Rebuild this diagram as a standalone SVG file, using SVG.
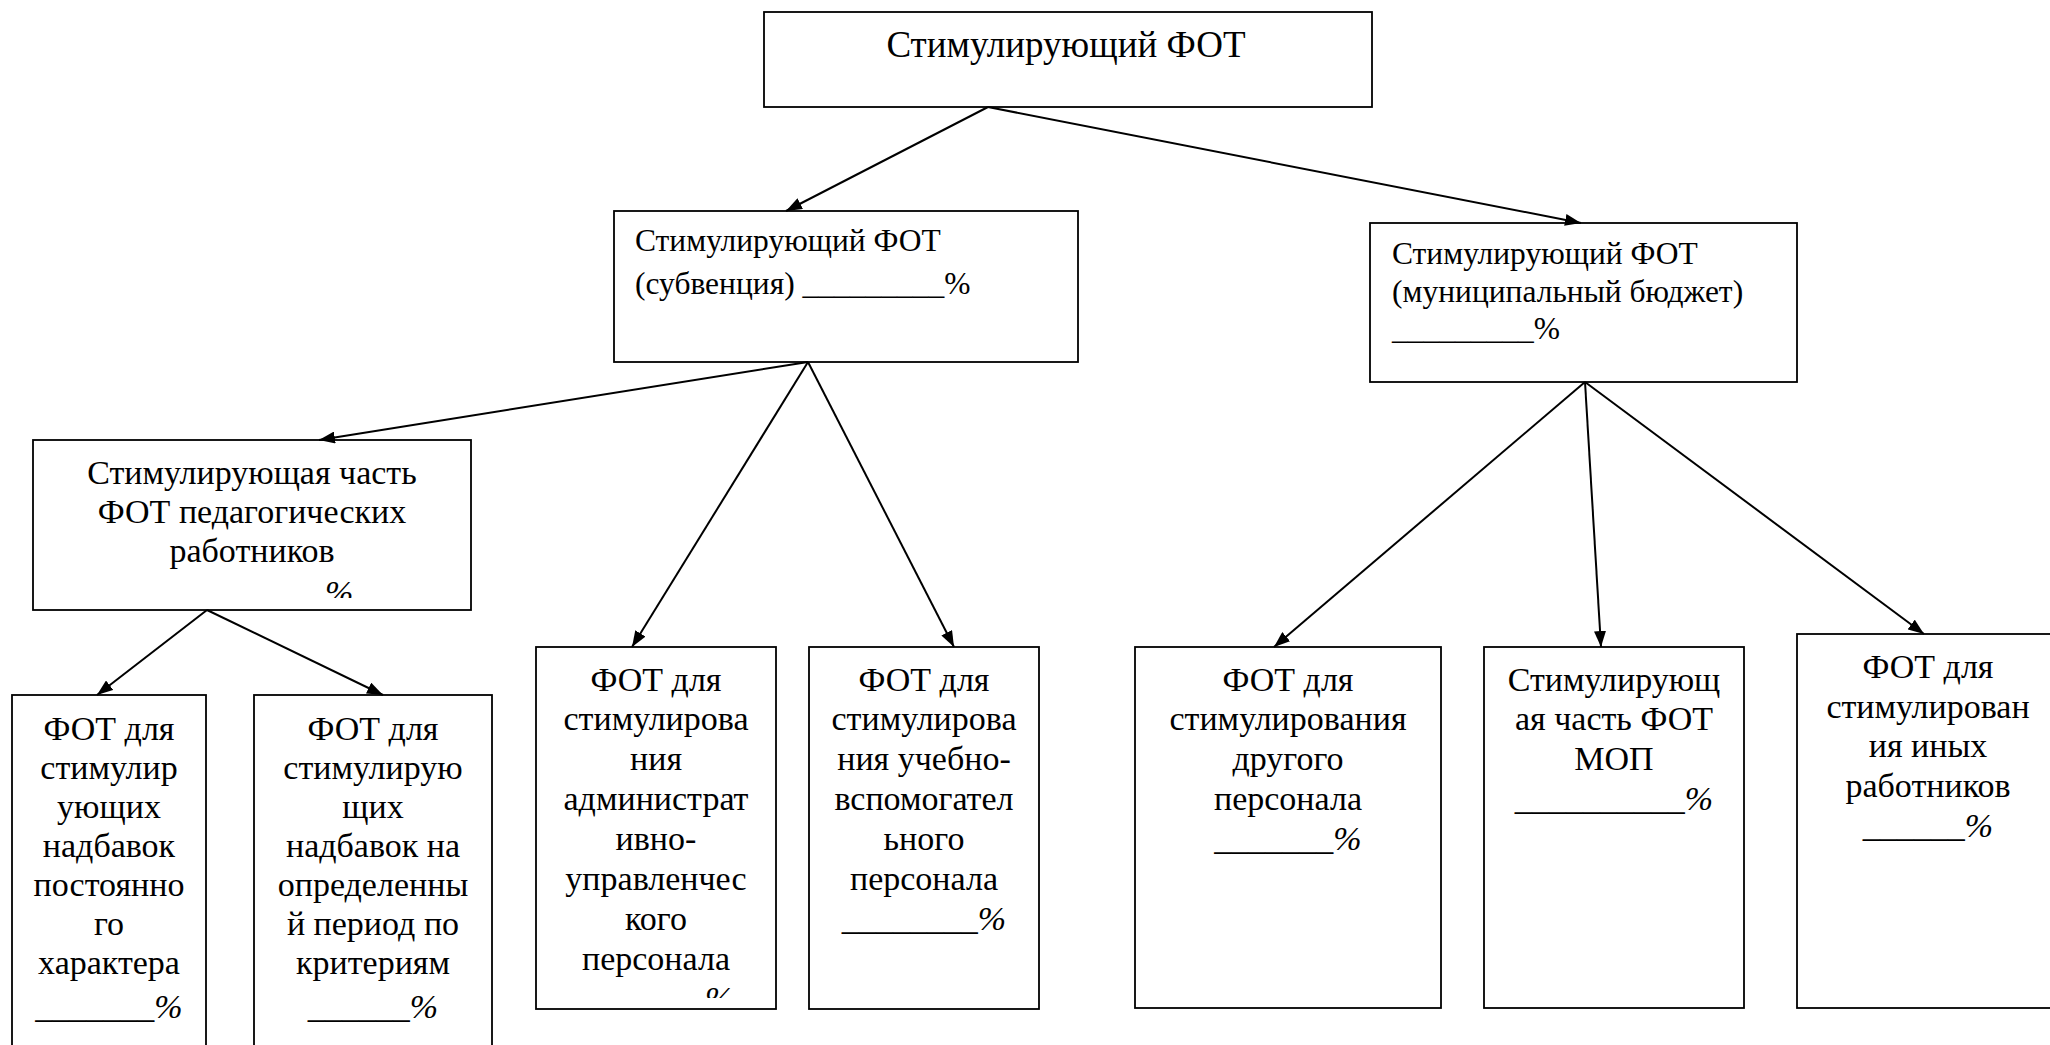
<svg xmlns="http://www.w3.org/2000/svg" width="2050" height="1045" viewBox="0 0 2050 1045" font-family="'Liberation Serif', 'Times New Roman', serif">
<style>
.box{fill:#fff;stroke:#000;stroke-width:1.8}
.t{fill:#000}
.top{font-size:37px}
.mid{font-size:31.5px}
.leaf{font-size:34px;text-anchor:middle}
.c{text-anchor:middle}
.it{font-style:italic}
.conn line{stroke:#000;stroke-width:2;marker-end:url(#ah)}
</style>
<defs>
<marker id="ah" markerUnits="userSpaceOnUse" markerWidth="16" markerHeight="12" refX="16" refY="6" orient="auto">
<path d="M0,0 L16,6 L0,12 z" fill="#000"/>
</marker>
<clipPath id="clipC1"><rect x="33" y="440" width="438" height="158"/></clipPath>
<clipPath id="clipL3"><rect x="536" y="647" width="240" height="351"/></clipPath>
</defs>
<rect width="2050" height="1045" fill="#fff"/>

<g id="n-top">
<rect class="box" x="764" y="12" width="608" height="95"/>
<text class="t top c" x="1066" y="57">Стимулирующий ФОТ</text>
</g>

<g id="n-subv">
<rect class="box" x="614" y="211" width="464" height="151"/>
<text class="t mid" x="635" y="251">Стимулирующий ФОТ</text>
<text class="t mid" x="635" y="294">(субвенция) _________%</text>
</g>

<g id="n-mun">
<rect class="box" x="1370" y="223" width="427" height="159"/>
<text class="t mid" x="1392" y="264">Стимулирующий ФОТ</text>
<text class="t mid" x="1392" y="302">(муниципальный бюджет)</text>
<text class="t mid" x="1392" y="339">_________%</text>
</g>

<g id="n-ped">
<rect class="box" x="33" y="440" width="438" height="170"/>
<text class="t leaf" x="252" y="484">Стимулирующая часть</text>
<text class="t leaf" x="252" y="523">ФОТ педагогических</text>
<text class="t leaf" x="252" y="562">работников</text>
<text class="t it" font-size="34" x="325" y="604" clip-path="url(#clipC1)">%</text>
</g>

<g id="n-l1">
<rect class="box" x="12" y="695" width="194" height="400"/>
<text class="t leaf" x="109" y="740">ФОТ для</text>
<text class="t leaf" x="109" y="779">стимулир</text>
<text class="t leaf" x="109" y="818">ующих</text>
<text class="t leaf" x="109" y="857">надбавок</text>
<text class="t leaf" x="109" y="896">постоянно</text>
<text class="t leaf" x="109" y="935">го</text>
<text class="t leaf" x="109" y="974">характера</text>
<text class="t leaf" x="109" y="1018">_______<tspan class="it">%</tspan></text>
</g>

<g id="n-l2">
<rect class="box" x="254" y="695" width="238" height="400"/>
<text class="t leaf" x="373" y="740">ФОТ для</text>
<text class="t leaf" x="373" y="779">стимулирую</text>
<text class="t leaf" x="373" y="818">щих</text>
<text class="t leaf" x="373" y="857">надбавок на</text>
<text class="t leaf" x="373" y="896">определенны</text>
<text class="t leaf" x="373" y="935">й период по</text>
<text class="t leaf" x="373" y="974">критериям</text>
<text class="t leaf" x="373" y="1018">______<tspan class="it">%</tspan></text>
</g>

<g id="n-l3">
<rect class="box" x="536" y="647" width="240" height="362"/>
<text class="t leaf" x="656" y="691">ФОТ для</text>
<text class="t leaf" x="656" y="730">стимулирова</text>
<text class="t leaf" x="656" y="770">ния</text>
<text class="t leaf" x="656" y="810">администрат</text>
<text class="t leaf" x="656" y="850">ивно-</text>
<text class="t leaf" x="656" y="890">управленчес</text>
<text class="t leaf" x="656" y="930">кого</text>
<text class="t leaf" x="656" y="970">персонала</text>
<text class="t it" font-size="34" x="705" y="1010" clip-path="url(#clipL3)">%</text>
</g>

<g id="n-l4">
<rect class="box" x="809" y="647" width="230" height="362"/>
<text class="t leaf" x="924" y="691">ФОТ для</text>
<text class="t leaf" x="924" y="730">стимулирова</text>
<text class="t leaf" x="924" y="770">ния учебно-</text>
<text class="t leaf" x="924" y="810">вспомогател</text>
<text class="t leaf" x="924" y="850">ьного</text>
<text class="t leaf" x="924" y="890">персонала</text>
<text class="t leaf" x="924" y="930">________<tspan class="it">%</tspan></text>
</g>

<g id="n-l5">
<rect class="box" x="1135" y="647" width="306" height="361"/>
<text class="t leaf" x="1288" y="691">ФОТ для</text>
<text class="t leaf" x="1288" y="730">стимулирования</text>
<text class="t leaf" x="1288" y="770">другого</text>
<text class="t leaf" x="1288" y="810">персонала</text>
<text class="t leaf" x="1288" y="850">_______<tspan class="it">%</tspan></text>
</g>

<g id="n-l6">
<rect class="box" x="1484" y="647" width="260" height="361"/>
<text class="t leaf" x="1614" y="691">Стимулирующ</text>
<text class="t leaf" x="1614" y="730">ая часть ФОТ</text>
<text class="t leaf" x="1614" y="770">МОП</text>
<text class="t leaf" x="1614" y="810">__________<tspan class="it">%</tspan></text>
</g>

<g id="n-l7">
<rect class="box" x="1797" y="634" width="300" height="374"/>
<text class="t leaf" x="1928" y="678">ФОТ для</text>
<text class="t leaf" x="1928" y="718">стимулирован</text>
<text class="t leaf" x="1928" y="757">ия иных</text>
<text class="t leaf" x="1928" y="797">работников</text>
<text class="t leaf" x="1928" y="837">______<tspan class="it">%</tspan></text>
</g>

<g id="connectors" class="conn">
<line x1="988" y1="107" x2="786" y2="211"/>
<line x1="988" y1="107" x2="1581" y2="223"/>
<line x1="808" y1="362" x2="319" y2="440"/>
<line x1="808" y1="362" x2="632" y2="647"/>
<line x1="808" y1="362" x2="954" y2="647"/>
<line x1="207" y1="610" x2="97" y2="695"/>
<line x1="207" y1="610" x2="383" y2="695"/>
<line x1="1585" y1="382" x2="1274" y2="647"/>
<line x1="1585" y1="382" x2="1601" y2="647"/>
<line x1="1585" y1="382" x2="1924" y2="634"/>
</g>
</svg>
